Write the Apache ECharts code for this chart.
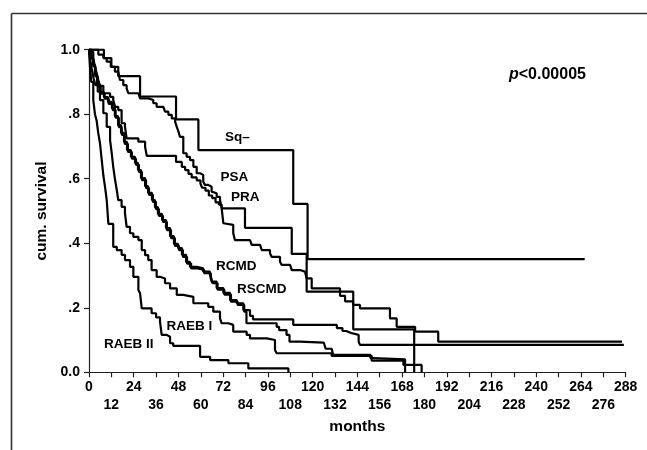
<!DOCTYPE html>
<html>
<head>
<meta charset="utf-8">
<script src="https://cdn.jsdelivr.net/npm/echarts@6/dist/echarts.min.js"></script>
<style>
html,body{margin:0;padding:0;background:#fff;}
#c{width:647px;height:450px;}
</style>
</head>
<body>
<div id="c"></div>
<script>
// Kaplan-Meier step curves: [month of event, survival after event]
var sqMinus = [[0,1],[8,0.974],[12,0.947],[15.7,0.918],[27.4,0.855],[46.7,0.784],[58.7,0.689],[109.6,0.522],[117.3,0.351],[266,0.351]];
var psa = [[0,1],[5.0,0.985],[7.7,0.974],[9.5,0.963],[11.7,0.947],[13.9,0.932],[15.7,0.926],[16.6,0.906],[18.4,0.890],[20.2,0.880],[21.1,0.865],[26.5,0.860],[27.4,0.849],[31.8,0.844],[34.5,0.834],[36.3,0.823],[39.9,0.818],[40.8,0.808],[42.6,0.798],[44.4,0.787],[46.2,0.777],[47.1,0.761],[48.0,0.746],[48.8,0.730],[50.6,0.679],[52.4,0.668],[54.2,0.658],[56.0,0.637],[57.8,0.617],[59.6,0.612],[61.3,0.591],[62.2,0.581],[64.0,0.575],[65.8,0.560],[66.7,0.555],[68.5,0.544],[70.3,0.534],[71.2,0.508],[72.1,0.462],[73.0,0.457],[77.4,0.431],[78.3,0.410],[86.4,0.405],[87.3,0.395],[91.8,0.389],[92.7,0.379],[97.1,0.369],[98.0,0.358],[102.5,0.343],[103.4,0.333],[107.9,0.327],[108.8,0.317],[113.2,0.312],[115.9,0.307],[116.8,0.291],[119.5,0.26],[134.7,0.237],[137.4,0.22],[141.7,0.209],[145.4,0.198],[161.5,0.167],[165.1,0.141],[175,0.126],[187.4,0.095],[286,0.095]];
var pra = [[0,1],[1.1,0.993],[2.3,0.974],[3.2,0.947],[4.1,0.928],[5.0,0.906],[5.9,0.888],[7.7,0.865],[11.3,0.854],[13.0,0.844],[14.0,0.823],[15.7,0.813],[17.5,0.772],[19.3,0.761],[20.2,0.725],[26.5,0.715],[30.1,0.699],[31.0,0.671],[46.7,0.652],[49.8,0.637],[51.6,0.627],[53.4,0.615],[55.1,0.604],[57.8,0.595],[59.8,0.585],[60.7,0.572],[62.5,0.563],[64.3,0.548],[66.1,0.54],[67.9,0.527],[69.7,0.52],[71.2,0.508],[83.7,0.448],[108.8,0.367],[116.8,0.25],[141.8,0.133],[174.5,0]];
var rcmd = [[0,1],[1,0.975],[2.1,0.953],[3.2,0.922],[4.3,0.891],[5.9,0.869],[8.0,0.853],[10.2,0.838],[12.3,0.819],[13.9,0.794],[15.6,0.766],[17.2,0.742],[18.8,0.714],[20.4,0.689],[22.5,0.668],[24.7,0.649],[26.3,0.627],[27.9,0.602],[30.1,0.577],[31.7,0.556],[33.8,0.534],[35.4,0.512],[37.0,0.491],[39.2,0.472],[41.3,0.447],[43.5,0.422],[45.6,0.398],[47.8,0.385],[49.9,0.364],[52.1,0.342],[54.2,0.327],[57.8,0.322],[61.3,0.312],[64.9,0.302],[65.8,0.281],[68.5,0.261],[72.1,0.246],[75.7,0.224],[79.3,0.214],[82.8,0.193],[86.4,0.175],[88,0.164],[109.6,0.147],[133,0.137],[136,0.128],[138,0.122],[140.7,0.116],[144.7,0.095],[145.4,0.085],[287,0.085]];
var rscmd = [[0,1],[1.3,0.972],[2.4,0.948],[3.5,0.917],[4.7,0.886],[6.3,0.864],[8.4,0.848],[10.6,0.832],[12.7,0.813],[14.3,0.789],[16.0,0.760],[17.6,0.736],[19.2,0.708],[20.9,0.683],[23.0,0.662],[25.2,0.643],[26.8,0.621],[28.4,0.596],[30.6,0.571],[32.2,0.550],[34.3,0.528],[35.9,0.506],[37.5,0.485],[39.7,0.466],[41.8,0.441],[44.0,0.416],[46.1,0.392],[48.3,0.379],[50.4,0.358],[52.6,0.337],[54.8,0.322],[58.3,0.317],[61.8,0.307],[65.4,0.297],[66.3,0.276],[69.0,0.256],[72.6,0.241],[76.2,0.219],[79.8,0.209],[83.3,0.188],[84.5,0.152],[100.7,0.141],[102,0.131],[106,0.116],[107.6,0.095],[113,0.092],[126,0.089],[127,0.073],[130.2,0.069],[131,0.054],[151,0.044],[152.5,0.04],[169.6,0]];
var raeb1 = [[0,1],[0.6,0.97],[1.5,0.94],[2.5,0.91],[3.5,0.89],[4.7,0.87],[5.9,0.844],[7.7,0.803],[9.5,0.761],[11.3,0.72],[12.2,0.679],[13.0,0.637],[14.0,0.596],[14.9,0.565],[15.7,0.534],[17.5,0.513],[19.3,0.493],[20.2,0.451],[22.0,0.431],[23.8,0.420],[26.5,0.41],[28.3,0.379],[30.1,0.363],[31.8,0.348],[33.6,0.317],[36.3,0.296],[38.1,0.291],[40.8,0.276],[43.5,0.260],[47.1,0.240],[50.6,0.234],[56.0,0.214],[64.0,0.203],[66.7,0.188],[70.3,0.167],[71.2,0.152],[74.8,0.147],[77.4,0.126],[84.6,0.116],[86.4,0.105],[95.4,0.100],[99.8,0.069],[100.7,0.059],[130.2,0.051],[151.7,0.036],[168.7,0.023],[178.5,0]];
var raeb2 = [[0,1],[0.5,0.95],[1.2,0.9],[2.3,0.844],[3.2,0.80],[4.1,0.78],[5,0.74],[5.9,0.71],[6.8,0.66],[7.7,0.61],[8.6,0.575],[9.5,0.534],[10.4,0.46],[13,0.389],[14.9,0.379],[17.5,0.364],[19.3,0.348],[22,0.327],[23.8,0.296],[26.5,0.255],[27.4,0.245],[28.3,0.198],[33.6,0.183],[36,0.17],[38.1,0.157],[39,0.116],[41.7,0.11],[43.5,0.09],[45.2,0.082],[59.6,0.048],[65,0.038],[74.8,0.028],[85.5,0.012],[107,0]];

var seriesNames = ['Sq\u2013','PSA','PRA','RCMD','RSCMD','RAEB I','RAEB II'];
var seriesData = [sqMinus, psa, pra, rcmd, rscmd, raeb1, raeb2];
var xTicks = {min: 0, max: 288, step: 12};
var yTicks = {min: 0, max: 1, step: 0.2};

var FONT = 'Liberation Sans, Arial, Helvetica, sans-serif';
var chart = echarts.init(document.getElementById('c'), null, {renderer: 'canvas'});

var series = seriesData.map(function (d, i) {
  return {
    name: seriesNames[i],
    type: 'line',
    step: 'end',
    data: d,
    xAxisIndex: 0,
    showSymbol: false,
    symbol: 'none',
    lineStyle: {color: '#000', width: 2.2},
    silent: true,
    z: 3
  };
});

function lbl(text, x, y) {
  return {type: 'text', x: x, y: y, z: 10,
    style: {text: text, font: 'bold 13.5px ' + FONT, fill: '#000', verticalAlign: 'middle', align: 'left'}};
}

var labelCommon = {color: '#000', fontFamily: FONT, fontWeight: 'bold', fontSize: 14,
  showMinLabel: true, showMaxLabel: true};

chart.setOption({
  animation: false,
  backgroundColor: '#fff',
  grid: {left: 89, right: 21.3, top: 49.7, bottom: 77.7, containLabel: false, outerBoundsMode: 'none'},
  xAxis: [{
    type: 'value', min: xTicks.min, max: xTicks.max, interval: xTicks.step, position: 'bottom', offset: 0,
    name: 'months', nameLocation: 'middle', nameGap: 46,
    nameTextStyle: {fontFamily: FONT, fontWeight: 'bold', fontSize: 15.5, color: '#000'},
    axisLine: {show: true, onZero: false, lineStyle: {color: '#222', width: 1.2}},
    axisTick: {show: true, inside: false, length: 5, lineStyle: {color: '#222', width: 1.2}},
    splitLine: {show: false},
    axisLabel: Object.assign({margin: 8,
      formatter: function (v) { return (v % 24 === 0) ? String(v) : ''; }}, labelCommon)
  }, {
    type: 'value', min: xTicks.min, max: xTicks.max, interval: xTicks.step, position: 'bottom', offset: 0,
    axisLine: {show: false}, axisTick: {show: false}, splitLine: {show: false},
    axisLabel: Object.assign({margin: 26,
      formatter: function (v) { return (v % 24 === 12) ? String(v) : ''; }}, labelCommon)
  }],
  yAxis: {
    type: 'value', min: yTicks.min, max: yTicks.max, interval: yTicks.step,
    name: 'cum. survival', nameLocation: 'middle', nameGap: 39,
    nameTextStyle: {fontFamily: FONT, fontWeight: 'bold', fontSize: 15.5, color: '#000'},
    axisLine: {show: true, onZero: false, lineStyle: {color: '#222', width: 1.2}},
    axisTick: {show: true, inside: false, length: 5, lineStyle: {color: '#222', width: 1.2}},
    splitLine: {show: false},
    axisLabel: {
      margin: 9, color: '#000', fontFamily: FONT, fontWeight: 'bold', fontSize: 14,
      formatter: function (v) {
        var s = v.toFixed(1);
        if (s === '1.0' || s === '0.0') return s;
        return s.replace(/^0/, '');
      }
    }
  },
  graphic: [
    {type: 'line', z: 1, shape: {x1: 11.5, y1: 13.5, x2: 647, y2: 13.5}, style: {stroke: '#333', lineWidth: 1.6}},
    {type: 'line', z: 1, shape: {x1: 11.5, y1: 13.5, x2: 11.5, y2: 450}, style: {stroke: '#333', lineWidth: 1.6}},
    lbl(seriesNames[0], 225, 137.5),
    lbl(seriesNames[1], 220.5, 177.5),
    lbl(seriesNames[2], 231, 197.7),
    lbl(seriesNames[3], 216, 266),
    lbl(seriesNames[4], 237, 289.3),
    lbl(seriesNames[5], 166.5, 326),
    lbl(seriesNames[6], 104, 344),
    {type: 'text', x: 509, y: 75, z: 10, style: {
      text: '{i|p}{b|<0.00005}', verticalAlign: 'middle', align: 'left',
      rich: {
        i: {font: 'italic bold 16px ' + FONT, fill: '#000'},
        b: {font: 'bold 16px ' + FONT, fill: '#000'}
      }
    }}
  ],
  series: series
});
</script>
</body>
</html>
